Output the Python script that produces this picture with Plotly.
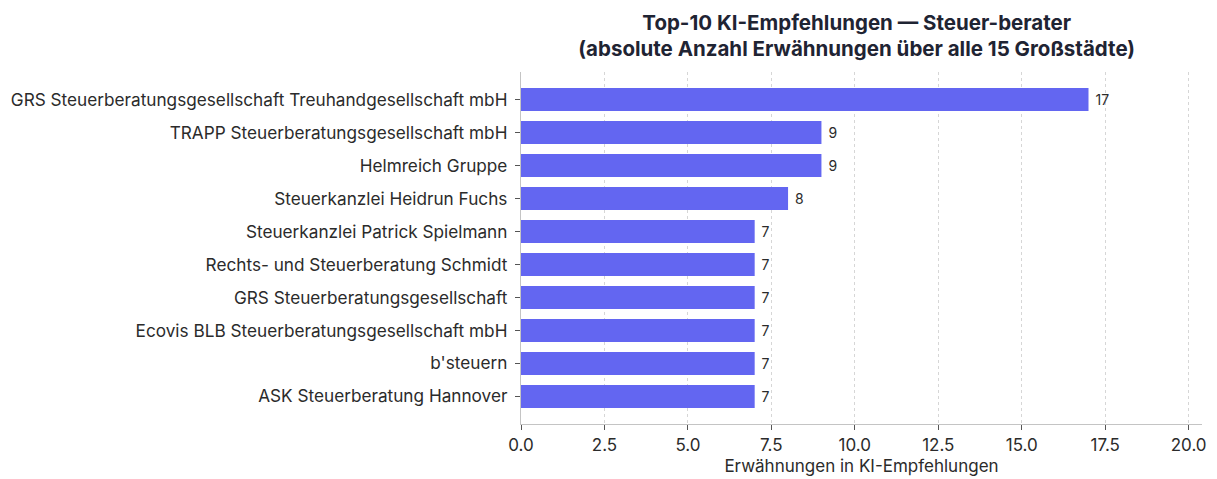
import plotly.graph_objects as go

categories = [
    "GRS Steuerberatungsgesellschaft Treuhandgesellschaft mbH",
    "TRAPP Steuerberatungsgesellschaft mbH",
    "Helmreich Gruppe",
    "Steuerkanzlei Heidrun Fuchs",
    "Steuerkanzlei Patrick Spielmann",
    "Rechts- und Steuerberatung Schmidt",
    "GRS Steuerberatungsgesellschaft",
    "Ecovis BLB Steuerberatungsgesellschaft mbH",
    "b'steuern",
    "ASK Steuerberatung Hannover",
]
values = [17, 9, 9, 8, 7, 7, 7, 7, 7, 7]
x_ticks = [0, 2.5, 5, 7.5, 10, 12.5, 15, 17.5, 20]
x_tick_labels = ["0.0", "2.5", "5.0", "7.5", "10.0", "12.5", "15.0", "17.5", "20.0"]

FONT = "Inter, Roboto, sans-serif"
TXT = "#2b2b2b"

fig = go.Figure(
    go.Bar(
        x=values,
        y=categories,
        orientation="h",
        marker=dict(color="#6366F1", line=dict(width=0)),
        width=0.7,
        text=values,
        texttemplate=" %{x}",
        textposition="outside",
        textfont=dict(family=FONT, size=14, color=TXT),
        cliponaxis=False,
        hoverinfo="x+y",
    )
)

fig.update_layout(
    width=1217,
    height=479,
    margin=dict(l=521, r=15, t=72, b=55, autoexpand=False),
    paper_bgcolor="white",
    plot_bgcolor="white",
    showlegend=False,
    font=dict(family=FONT, color=TXT),
    title=dict(
        text="<b>Top-10 KI-Empfehlungen — Steuer-berater</b><br><b>(absolute Anzahl Erwähnungen über alle 15 Großstädte)</b>",
        x=0.493,
        xref="paper",
        xanchor="center",
        yref="container",
        y=1 - 29.5 / 479,
        yanchor="middle",
        font=dict(family=FONT, size=20.5, color="#1f2433"),
    ),
)

fig.update_xaxes(
    range=[0, 20.4],
    tickvals=x_ticks,
    ticktext=x_tick_labels,
    tickfont=dict(family=FONT, size=17, color=TXT),
    showgrid=True,
    gridcolor="#d6d6d6",
    griddash="dot",
    gridwidth=1,
    showline=True,
    linecolor="#c4c4c4",
    linewidth=1.3,
    ticks="outside",
    ticklen=5,
    tickcolor="#555555",
    zeroline=False,
    automargin=False,
    title=dict(text="Erwähnungen in KI-Empfehlungen", font=dict(family=FONT, size=17, color=TXT), standoff=6),
)

fig.update_yaxes(
    categoryorder="array",
    categoryarray=categories,
    range=[9.835, -0.835],
    tickfont=dict(family=FONT, size=17.2, color=TXT),
    ticklabelstandoff=4,
    automargin=False,
    showgrid=False,
    showline=True,
    linecolor="#c4c4c4",
    linewidth=1.3,
    ticks="outside",
    ticklen=5,
    tickcolor="#555555",
)

fig.write_html(
    "out.html",
    config={"displayModeBar": False},
    post_script="document.body.style.margin='0';",
)
